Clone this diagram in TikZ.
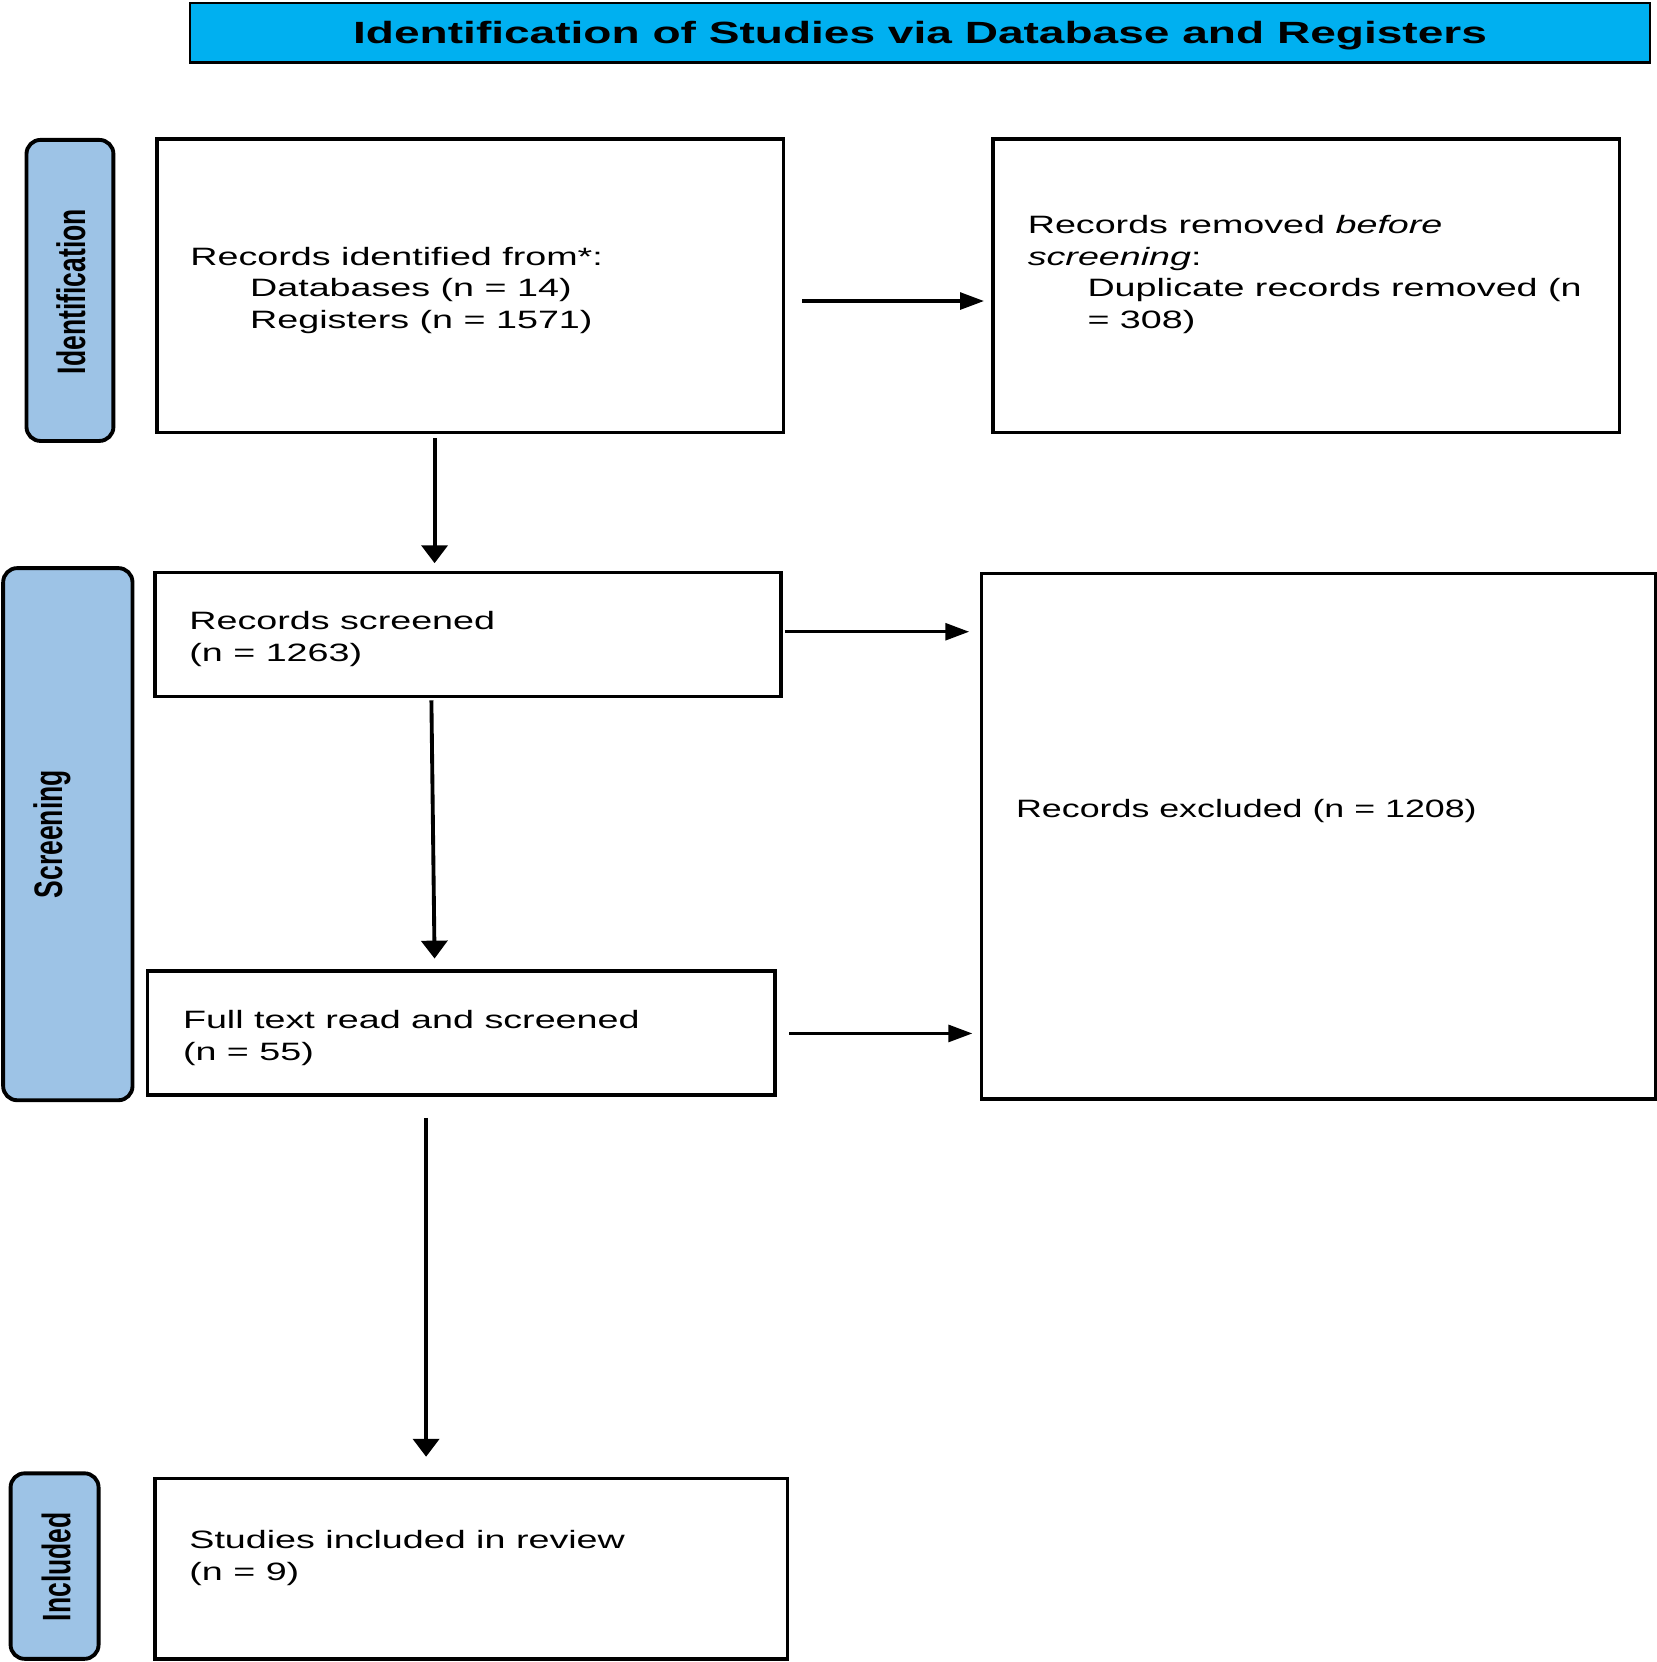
\documentclass[tikz,border=0pt]{standalone}
\usepackage{fontspec}
\setmainfont{Liberation Sans}[FakeStretch=1.5]
\newfontfamily\etapefont{Liberation Sans}
\usetikzlibrary{arrows.meta,calc}
\definecolor{bleutitre}{RGB}{0,176,240}
\definecolor{bleuetape}{RGB}{157,195,230}

\begin{document}
\begin{tikzpicture}[x=0.0106cm,y=-0.0106cm]
			\tikzstyle{boite}=[draw,line width=1pt,inner sep=0pt]
			\tikzstyle{etape}=[draw,line width=1.1pt,rounded corners=0.14cm,fill=bleuetape,inner sep=0pt]
			\tikzstyle{texte}=[anchor=west,inner sep=0pt,align=left,font=\fontsize{7.15}{9.05}\selectfont]
			\tikzstyle{texteetape}=[rotate=90,inner sep=0pt,font=\etapefont\bfseries\fontsize{7.55}{9}\selectfont]
			\tikzstyle{flecheh}=[-{Triangle[length=6.8pt,width=4.8pt]},line width=0.9pt]
			\tikzstyle{flechev}=[-{Triangle[length=5.1pt,width=7.4pt]},line width=1.1pt]
			\def\Pixel{0.0106cm}
			\def\Retrait{\hspace*{17pt}}
			\useasboundingbox (0,0) rectangle (1563,1568);
			% titre
			\node[draw,line width=0.6pt,fill=bleutitre,minimum width=1378*\Pixel,minimum height=56*\Pixel,text depth=0pt,font=\bfseries\fontsize{8.74}{10}\selectfont] (titre) at (868,31) {Identification of Studies via Database and Registers};
			% etapes a gauche
			\node[etape,minimum width=82*\Pixel,minimum height=284*\Pixel] (etI) at (66,274) {};
			\node[etape,minimum width=122*\Pixel,minimum height=502*\Pixel] (etS) at (64,787) {};
			\node[etape,minimum width=83*\Pixel,minimum height=175*\Pixel] (etN) at (51.5,1477.5) {};
			\node[texteetape] (txtetI) at (67,275) {\scalebox{1}[1.5]{Identification}};
			\node[texteetape] (txtetS) at (49,787) {\scalebox{1}[1.5]{Screening}};
			\node[texteetape] (txtetN) at (53,1478) {\scalebox{1}[1.5]{Included}};
			% boites
			\node[boite,minimum width=591*\Pixel,minimum height=277*\Pixel] (ident) at (443.5,269.5) {};
			\node[boite,minimum width=591*\Pixel,minimum height=277*\Pixel] (retir) at (1232.5,269.5) {};
			\node[boite,minimum width=591*\Pixel,minimum height=117*\Pixel] (tri) at (441.5,598.5) {};
			\node[boite,minimum width=636*\Pixel,minimum height=496*\Pixel] (excl) at (1244,789) {};
			\node[boite,minimum width=592*\Pixel,minimum height=117*\Pixel] (lect) at (435,974.5) {};
			\node[boite,minimum width=597*\Pixel,minimum height=170*\Pixel] (incl) at (444.5,1480) {};
			% textes
			\node[texte] (txtident) at (179,274) {Records identified from*:\\\Retrait Databases (n = 14)\\\Retrait Registers (n = 1571)};
			\node[texte] (txtretir) at (969,259) {Records removed \textit{before}\\\textit{screening}:\\\Retrait Duplicate records removed (n\\\Retrait = 308)};
			\node[texte] (txttri) at (178,602.5) {Records screened\\(n = 1263)};
			\node[texte] (txtexcl) at (958,765.5) {\scalebox{0.95}[1]{Records excluded (n = 1208)}};
			\node[texte] (txtlect) at (172,979.5) {Full text read and screened\\(n = 55)};
			\node[texte] (txtincl) at (178,1469.5) {Studies included in review\\(n = 9)};
			% fleches
			\draw[flecheh] ($(ident.east)+(16,14.5)$)--($(ident.east -| retir.west)+(-7,14.5)$);
			\draw[flechev] ($(ident.south)+(-33.5,4)$)--($(tri.north)+(-31.5,-7)$);
			\draw[flecheh] ($(tri.east)+(2,-2.5)$)--($(tri.east -| excl.west)+(-10,-2.5)$);
			\draw[flechev] ($(tri.south)+(-34.5,2)$)--($(lect.north)+(-25,-10)$);
			\draw[flecheh] ($(lect.east)+(12,0.5)$)--($(lect.east -| excl.west)+(-7,0.5)$);
			\draw[flechev] ($(lect.south)+(-33,20)$)--($(incl.north)+(-42.5,-19)$);
		\end{tikzpicture}
\end{document}
